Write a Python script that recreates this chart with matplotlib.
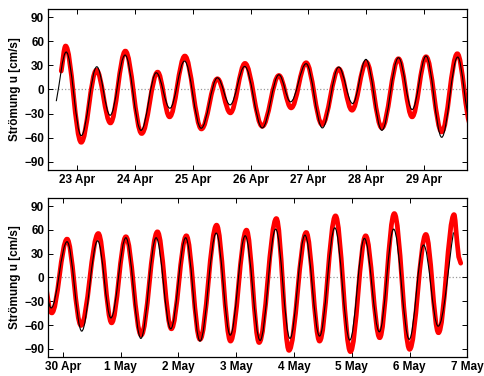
import datetime as dt
import numpy as np
import matplotlib
matplotlib.use("Agg")
import matplotlib.pyplot as plt
import matplotlib.dates as mdates
from matplotlib.path import Path
from matplotlib.patches import PathPatch

plt.rcParams['font.family'] = ['Liberation Sans', 'DejaVu Sans']
plt.rcParams['font.weight'] = 'bold'
plt.rcParams['font.size'] = 8.5

# time in days after 23 Apr 00:00, current in cm/s (turning points)
black_t = [-0.362, -0.19, 0.069, 0.339, 0.569, 0.828, 1.103, 1.368, 1.603, 1.856,
           2.144, 2.425, 2.644, 2.897, 3.201, 3.489, 3.69, 3.96, 4.241, 4.523,
           4.764, 4.994, 5.27, 5.557, 5.793, 6.034, 6.305, 6.581, 6.799, 7.075,
           7.328, 7.603, 7.833, 8.092, 8.351, 8.615, 8.868, 9.126, 9.374, 9.655,
           9.897, 10.155, 10.413, 10.683, 10.93, 11.189, 11.442, 11.706, 11.965, 12.218,
           12.476, 12.723, 12.993, 13.241, 13.493, 13.758]
black_v = [-14.6, 46.8, -57.6, 28.4, -32.2, 43.0, -51.0, 20.9, -23.4, 35.5,
           -48.4, 14.6, -19.2, 28.8, -48.0, 18.4, -15.4, 32.2, -48.0, 28.0,
           -17.5, 37.6, -51.0, 39.7, -25.0, 41.8, -59.7, 40.5, -38.4, 45.1,
           -67.6, 46.3, -51.0, 50.1, -76.8, 50.1, -64.7, 50.1, -80.2, 56.0,
           -72.7, 52.6, -79.3, 61.0, -76.8, 53.4, -73.9, 62.6, -78.9, 49.3,
           -68.5, 61.0, -78.0, 40.9, -61.4, 56.8]

red_t = [-0.276, -0.201, 0.069, 0.333, 0.575, 0.833, 1.115, 1.391, 1.598, 1.862,
         2.149, 2.425, 2.649, 2.902, 3.201, 3.489, 3.701, 3.96, 4.236, 4.523,
         4.753, 5.0, 5.27, 5.557, 5.793, 6.034, 6.305, 6.575, 6.81, 7.075,
         7.316, 7.615, 7.845, 8.092, 8.356, 8.638, 8.879, 9.138, 9.374, 9.661,
         9.902, 10.178, 10.396, 10.695, 10.913, 11.212, 11.442, 11.718, 11.976, 12.24,
         12.482, 12.735, 13.0, 13.281, 13.499, 13.769, 13.82, 13.848, 13.884]
red_v = [23.0, 54.3, -66.0, 24.2, -41.8, 48.0, -55.0, 21.7, -34.2, 41.8,
         -49.3, 13.4, -29.2, 32.6, -46.0, 17.5, -23.0, 33.4, -43.8, 25.9,
         -25.9, 34.2, -48.0, 38.4, -34.2, 40.9, -53.0, 44.7, -44.7, 48.4,
         -60.5, 55.5, -57.2, 51.4, -72.7, 57.6, -64.7, 52.6, -78.0, 66.0,
         -80.2, 59.7, -82.0, 74.3, -91.9, 56.8, -80.2, 77.7, -93.5, 52.6,
         -76.0, 80.6, -90.6, 54.3, -69.7, 79.3, 45.0, 26.0, 18.0]

start = dt.datetime(2008, 4, 23)
windows = [(dt.datetime(2008, 4, 22, 12), dt.datetime(2008, 4, 29, 18)),
           (dt.datetime(2008, 4, 29, 18), dt.datetime(2008, 5, 7))]
yticks = [-90, -60, -30, 0, 30, 60, 90]


def smooth_path(t, v):
    # cubic bezier through the turning points, flat tangent at each peak/trough
    x = mdates.date2num(start) + np.asarray(t)
    y = np.asarray(v)
    n = len(x)
    ext = [0 < i < n - 1 and (y[i] - y[i - 1]) * (y[i] - y[i + 1]) > 0 for i in range(n)]
    verts = [(x[0], y[0])]
    codes = [Path.MOVETO]
    for i in range(n - 1):
        d = x[i + 1] - x[i]
        if ext[i]:
            c1 = (x[i] + 0.3642 * d, y[i])
        else:
            c1 = (x[i] + d / 3, y[i] + (y[i + 1] - y[i]) / 3)
        if ext[i + 1]:
            c2 = (x[i + 1] - 0.3642 * d, y[i + 1])
        else:
            c2 = (x[i + 1] - d / 3, y[i + 1] - (y[i + 1] - y[i]) / 3)
        verts += [c1, c2, (x[i + 1], y[i + 1])]
        codes += [Path.CURVE4] * 3
    return Path(verts, codes)


fig = plt.figure(figsize=(4.84, 3.76), dpi=100)
ax1 = fig.add_axes([0.0998, 0.549, 0.866, 0.426])
ax2 = fig.add_axes([0.0998, 0.051, 0.866, 0.422])

for ax, (t0, t1) in zip([ax1, ax2], windows):
    ax.axhline(0, color='#999999', ls=':', lw=0.9, zorder=1)
    ax.add_patch(PathPatch(smooth_path(red_t, red_v), fill=False, ec='red',
                           lw=3.4, capstyle='round', joinstyle='round', zorder=2))
    ax.add_patch(PathPatch(smooth_path(black_t, black_v), fill=False, ec='black',
                           lw=0.8, zorder=3))
    ax.set_xlim(mdates.date2num(t0), mdates.date2num(t1))
    ax.set_ylim(-100, 100)
    ax.set_yticks(yticks)
    ax.xaxis.set_major_locator(mdates.DayLocator())
    ax.xaxis.set_major_formatter(plt.FuncFormatter(
        lambda x, _: '%d %s' % (mdates.num2date(x).day, mdates.num2date(x).strftime('%b'))))
    ax.tick_params(direction='in', length=3.5, width=0.7, top=True, right=True,
                   labelsize=8.5, pad=3)
    for s in ax.spines.values():
        s.set_linewidth(0.9)
    ax.set_ylabel('Strömung u [cm/s]', fontsize=8.5, fontweight='bold', labelpad=2)

fig.savefig('out.png', dpi=100)
